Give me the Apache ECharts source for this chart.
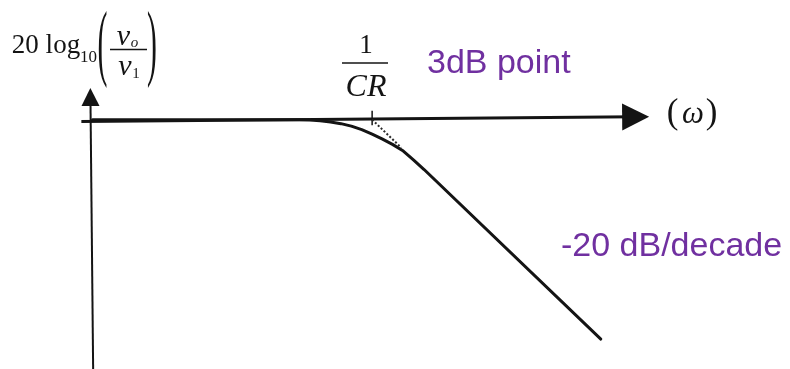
<!DOCTYPE html>
<html>
<head>
<meta charset="utf-8">
<script src="https://cdn.jsdelivr.net/npm/echarts@6/dist/echarts.min.js"></script>
<style>
  html, body { margin: 0; padding: 0; background: #ffffff; }
  #chart { width: 790px; height: 369px; }
</style>
</head>
<body>
<div id="chart"></div>
<script>
// Frequency in decades relative to the corner frequency 1/CR: log10(ω·CR)
const omegaDecades = [-2.69, -0.7, -0.6, -0.5, -0.4, -0.3, -0.2, -0.1, 0, 0.1, 0.2, 0.3, 0.4, 0.5, 2.2];
// Magnitude response 20·log10(vo/v1) in dB
const gainDb = [0, 0, -0.05, -0.2, -0.45, -0.8, -1.3, -2.0, -2.9, -3.9, -5.0, -6.3, -8.1, -10, -44];
// Straight-line asymptote leaving the corner at -20 dB/decade
const asymDecades = [0, 0.28];
const asymDb = [0, -5.6];
// Corner marker on the frequency axis
const cornerDecade = 0;

const ink = '#141414';
const purple = '#7030A0';
const serif = '"Liberation Serif", "DejaVu Serif", serif';
const sans = '"Liberation Sans", Arial, sans-serif';

const zip = (xs, ys) => xs.map((x, i) => [x, ys[i]]);

function txt(x, y, text, font, opts) {
  return Object.assign({
    type: 'text', x: x, y: y, silent: true,
    style: { text: text, x: 0, y: 0, font: font, fill: ink,
             textAlign: 'center', textVerticalAlign: 'middle' }
  }, opts || {});
}

const chart = echarts.init(document.getElementById('chart'), null, { renderer: 'canvas' });

chart.setOption({
  animation: false,
  backgroundColor: '#ffffff',
  grid: { left: 0, right: 0, top: 0, bottom: 0, containLabel: false },
  xAxis: { type: 'value', min: -3.58, max: 4.02, show: false },
  yAxis: { type: 'value', min: -50, max: 24, show: false },
  series: [
    // frequency axis (ω) with arrow
    {
      type: 'lines', coordinateSystem: 'cartesian2d', clip: false,
      symbol: ['none', 'triangle'], symbolSize: [16, 27],
      lineStyle: { color: ink, width: 3, opacity: 1 },
      data: [{ coords: [[-2.797, -0.36], [2.535, 0.58]] }]
    },
    // gain axis with arrow
    {
      type: 'lines', coordinateSystem: 'cartesian2d', clip: false,
      symbol: ['none', 'triangle'], symbolSize: [13, 18],
      lineStyle: { color: ink, width: 2, opacity: 1 },
      data: [{ coords: [[-2.684, -50], [-2.71, 4.55]] }]
    },
    // tick at the corner frequency
    {
      type: 'line', silent: true, symbol: 'none',
      lineStyle: { color: ink, width: 1.5 },
      data: [[cornerDecade, 1.8], [cornerDecade, -1.1]]
    },
    // asymptote (dotted)
    {
      type: 'line', silent: true, symbol: 'none',
      lineStyle: { color: '#2a2a2a', width: 2, type: [2, 2] },
      data: zip(asymDecades, asymDb)
    },
    // magnitude response curve
    {
      type: 'line', silent: true, symbol: 'none', smooth: false,
      lineStyle: { color: ink, width: 3, join: 'round', cap: 'round' },
      data: zip(omegaDecades, gainDb)
    }
  ],
  graphic: [
    // 20 log10 (vo / v1)
    txt(46, 46.4, '20 log', '27px ' + serif),
    txt(88.5, 57.6, '10', '17px ' + serif),
    txt(102.5, 48, '(', '85px ' + serif, { scaleX: 0.35 }),
    txt(152, 48, ')', '85px ' + serif, { scaleX: 0.35 }),
    txt(123.5, 37, 'v', 'italic 30px ' + serif),
    txt(134.5, 43.5, 'o', 'italic 15px ' + serif),
    { type: 'line', silent: true, shape: { x1: 110, y1: 49.5, x2: 147, y2: 49.5 },
      style: { stroke: ink, lineWidth: 1.5 } },
    txt(125, 67, 'v', 'italic 30px ' + serif),
    txt(136, 74.5, '1', '15px ' + serif),

    // 1 / CR
    txt(366, 46, '1', '27px ' + serif),
    { type: 'line', silent: true, shape: { x1: 342, y1: 63, x2: 388, y2: 63 },
      style: { stroke: ink, lineWidth: 1.5 } },
    txt(366, 87.8, 'CR', 'italic 32px ' + serif),

    // (ω)
    txt(672.5, 114, '(', '35px ' + serif),
    txt(693, 115, 'ω', 'italic 31px ' + serif),
    txt(711.5, 114, ')', '35px ' + serif),

    // annotations
    { type: 'text', x: 427, y: 63.5, silent: true,
      style: { text: '3dB point', x: 0, y: 0, font: '34px ' + sans, fill: purple,
               textAlign: 'left', textVerticalAlign: 'middle' } },
    { type: 'text', x: 561, y: 247, silent: true,
      style: { text: '-20 dB/decade', x: 0, y: 0, font: '34px ' + sans, fill: purple,
               textAlign: 'left', textVerticalAlign: 'middle' } }
  ]
});
</script>
</body>
</html>
